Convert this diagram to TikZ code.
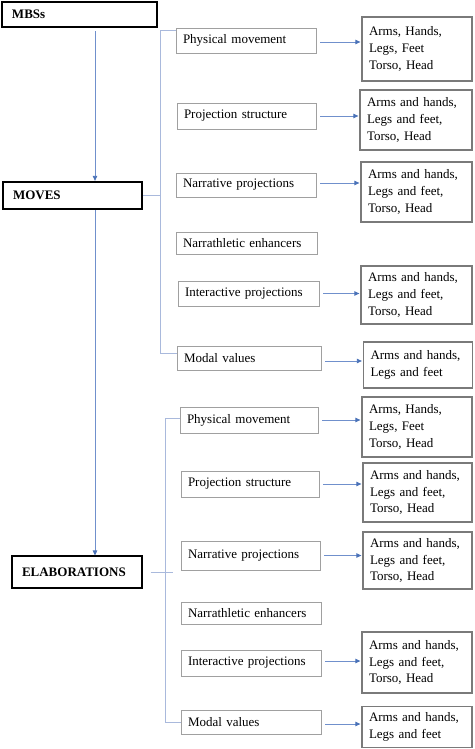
\documentclass[tikz,border=0pt]{standalone}
\usepackage{fontspec}
\setmainfont{Liberation Serif}
\usetikzlibrary{arrows.meta}
\definecolor{conn}{HTML}{7090CC}
\definecolor{tipc}{HTML}{4A72B8}
\definecolor{brk}{HTML}{A9B9DC}
\definecolor{midb}{HTML}{A0A0A0}
\definecolor{rgtb}{HTML}{7A7A7A}
\begin{document}
\begin{tikzpicture}[x=1pt,y=-1pt,
  every node/.style={font=\fontsize{13}{16.7}\selectfont},
  head/.style={draw=black, inner xsep=10pt, inner ysep=0pt, align=left, font=\fontsize{13}{16.7}\selectfont\bfseries},
  mid/.style={draw=midb, line width=0.8pt, inner xsep=7pt, inner ysep=0pt, align=left},
  rgt/.style={draw=rgtb, line width=1.3pt, inner xsep=7pt, inner ysep=0pt, align=left},
  arr/.style={draw=conn, line width=0.8pt, -{Triangle[length=5pt,width=4.5pt,color=tipc]}},
  brline/.style={draw=brk, line width=0.9pt}
]
\useasboundingbox (0,0) rectangle (474,749);

% left headings
\node[head, line width=2.6pt, minimum height=25pt, text width=135pt] (mbs) at (79.5,14.5) {MBSs};
\node[head, line width=2.3pt, minimum height=27pt, text width=119pt] (moves) at (72.5,195.5) {MOVES};
\node[head, line width=1.1pt, minimum height=32pt, text width=110pt] (elab) at (77,572) {ELABORATIONS};

\coordinate (vx) at (95,0);
\coordinate (bx1) at (160,0);
\coordinate (bx2) at (165,0);

\draw[arr] ([yshift=-3pt]mbs.south -| vx) -- (moves.north -| vx);
\draw[arr] (moves.south -| vx) -- (elab.north -| vx);

% top group middle boxes
\node[mid, minimum height=25pt, text width=126pt] (p1) at (246,40.5) {Physical movement};
\node[mid, minimum height=26pt, text width=125pt] (p2) at (246.5,116) {Projection structure};
\node[mid, minimum height=24pt, text width=126pt] (p3) at (246,185) {Narrative projections};
\node[mid, minimum height=22pt, text width=127pt] (p4) at (246.5,243) {Narrathletic enhancers};
\node[mid, minimum height=25pt, text width=127pt] (p5) at (248.5,293.5) {Interactive projections};
\node[mid, minimum height=24pt, text width=130pt] (p6) at (249,358) {Modal values};

% top group right boxes
\node[rgt, minimum height=64pt, text width=96pt] (r1) at (417,49) {Arms, Hands,\\Legs, Feet\\Torso, Head};
\node[rgt, minimum height=60pt, text width=98pt] (r2) at (416,120) {Arms and hands,\\Legs and feet,\\Torso, Head};
\node[rgt, minimum height=60pt, text width=97pt] (r3) at (416.5,192) {Arms and hands,\\Legs and feet,\\Torso, Head};
\node[rgt, minimum height=58pt, text width=97pt] (r5) at (416.5,295) {Arms and hands,\\Legs and feet,\\Torso, Head};
\node[rgt, minimum height=46pt, text width=95pt] (r6) at (418,365) {Arms and hands,\\Legs and feet};

% bracket top
\draw[brline] (moves.east) -- (moves.east -| bx1);
\draw[brline] ([yshift=10.5pt]p1.west) -- ([yshift=10.5pt]p1.west -| bx1) -- ([yshift=5pt]p6.west -| bx1) -- ([yshift=5pt]p6.west);

% top arrows
\draw[arr] ([xshift=4pt,yshift=-1.5pt]p1.east) -- ([xshift=-1pt,yshift=-1.5pt]p1.east -| r1.west);
\draw[arr] ([xshift=4pt]p2.east) -- ([xshift=-1pt]p2.east -| r2.west);
\draw[arr] ([xshift=4pt,yshift=2pt]p3.east) -- ([xshift=-1pt,yshift=2pt]p3.east -| r3.west);
\draw[arr] ([xshift=4pt]p5.east) -- ([xshift=-1pt]p5.east -| r5.west);
\draw[arr] ([xshift=4pt,yshift=-3pt]p6.east) -- ([xshift=-1pt,yshift=-3pt]p6.east -| r6.west);

% bottom group middle boxes
\node[mid, minimum height=26pt, text width=124pt] (q1) at (249,420) {Physical movement};
\node[mid, minimum height=26pt, text width=124pt] (q2) at (250,484) {Projection structure};
\node[mid, minimum height=29pt, text width=125pt] (q3) at (250.5,555.5) {Narrative projections};
\node[mid, minimum height=22pt, text width=126pt] (q4) at (251,613) {Narrathletic enhancers};
\node[mid, minimum height=26pt, text width=126pt] (q5) at (251,663) {Interactive projections};
\node[mid, minimum height=24pt, text width=126pt] (q6) at (251,722) {Modal values};

% bottom group right boxes
\node[rgt, minimum height=60pt, text width=96pt] (s1) at (417,427) {Arms, Hands,\\Legs, Feet\\Torso, Head};
\node[rgt, minimum height=59pt, text width=95pt] (s2) at (417.5,492.5) {Arms and hands,\\Legs and feet,\\Torso, Head};
\node[rgt, minimum height=57pt, text width=95pt] (s3) at (417.5,560.5) {Arms and hands,\\Legs and feet,\\Torso, Head};
\node[rgt, minimum height=61pt, text width=96pt] (s5) at (417,662.5) {Arms and hands,\\Legs and feet,\\Torso, Head};
\node[rgt, minimum height=41pt, text width=96pt] (s6) at (417,727) {Arms and hands,\\Legs and feet};

% bracket bottom
\draw[brline] ([xshift=8pt]elab.east) -- ([xshift=8pt]elab.east -| bx2);
\draw[brline] ([yshift=2pt]q1.west) -- ([yshift=2pt]q1.west -| bx2) -- (q6.west -| bx2) -- (q6.west);

% bottom arrows
\draw[arr] ([xshift=4pt]q1.east) -- ([xshift=-1pt]q1.east -| s1.west);
\draw[arr] ([xshift=4pt]q2.east) -- ([xshift=-1pt]q2.east -| s2.west);
\draw[arr] ([xshift=4pt]q3.east) -- ([xshift=-1pt]q3.east -| s3.west);
\draw[arr] ([xshift=4pt,yshift=2pt]q5.east) -- ([xshift=-1pt,yshift=2pt]q5.east -| s5.west);
\draw[arr] ([xshift=4pt,yshift=-2pt]q6.east) -- ([xshift=-1pt,yshift=-2pt]q6.east -| s6.west);
\end{tikzpicture}
\end{document}
